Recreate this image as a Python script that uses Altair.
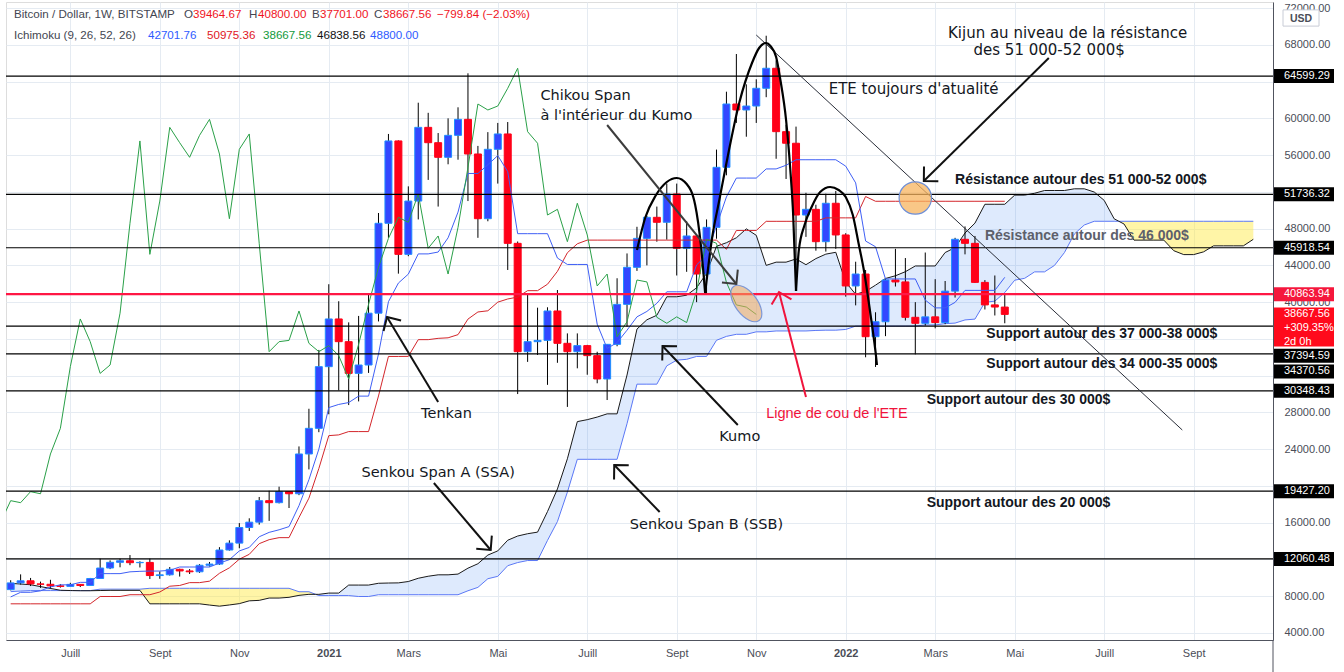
import math
import altair as alt
import pandas as pd

# ----------------------------------------------------------------- data
WEEK0 = "2020-05-25"  # first weekly candle (Monday)

OPEN = [8720, 9450, 9680, 9340, 9300, 9130, 9070, 9290, 9170, 9930,
        11070, 11690, 11860, 11650, 11680, 10250, 10330, 10930, 10750, 10660,
        11370, 11500, 13030, 13780, 15480, 16060, 18400, 18180, 19380, 19150,
        23480, 26270, 32980, 38170, 35700, 32250, 33160, 38800, 48580, 57540,
        45200, 51000, 59020, 57350, 55760, 58150, 59890, 56120, 49080, 56630,
        58300, 46400, 34610, 35700, 35840, 39040, 35520, 34610, 35270, 34180,
        31640, 35410, 39760, 43790, 46940, 49230, 48690, 51770, 45860, 47200,
        43060, 48140, 54670, 61560, 60910, 61340, 63270, 65450, 58550, 57290,
        49480, 50100, 46580, 50760, 47310, 41760, 43060, 36240, 37870, 42410,
        42200, 38350, 37700, 38400, 37780, 41200, 46840, 46400, 42150, 39700,
        39464.67]
HIGH = [9740, 10380, 9990, 9590, 9790, 9320, 9460, 9330, 9990, 12090,
        11900, 12090, 12480, 11800, 12090, 10700, 11180, 10990, 10960, 11490,
        11730, 13340, 14080, 15960, 16480, 18800, 19480, 19920, 19420, 24300,
        28400, 34800, 41950, 40100, 37800, 38500, 40900, 49700, 58300, 57600,
        52600, 61700, 60600, 58400, 60000, 61200, 64900, 57000, 58500, 59500,
        59600, 46600, 40800, 39400, 39440, 41320, 36600, 36600, 35350, 34600,
        35410, 42600, 45300, 48200, 49380, 50400, 52900, 52900, 48800, 47300,
        49000, 56600, 62900, 67000, 63700, 64250, 68990, 66300, 59300, 59100,
        51900, 50600, 51800, 52100, 47500, 44400, 43500, 38900, 42600, 45800,
        44800, 40000, 45400, 42500, 42300, 47000, 48240, 47200, 42400, 42900,
        40800]
LOW = [8640, 9270, 9110, 8910, 8830, 8940, 9060, 9000, 9160, 9900,
       10950, 11150, 11380, 11130, 9880, 9900, 10250, 10140, 10420, 10540,
       11230, 11410, 12960, 13220, 15100, 15790, 16200, 18100, 17600, 19000,
       21800, 25850, 27800, 30400, 28800, 29200, 32300, 37900, 47000, 43100,
       45000, 49000, 53300, 50400, 55000, 55500, 51000, 47000, 48800, 52900,
       43500, 30000, 33500, 34250, 31000, 33400, 28600, 32800, 32100, 31170,
       29350, 35200, 37330, 43400, 44000, 46580, 46800, 42900, 43300, 40000,
       40800, 46900, 53800, 59500, 58000, 59500, 62300, 55600, 53400, 42000,
       47100, 45600, 45500, 45800, 40600, 39650, 34000, 32950, 36300, 41700,
       38000, 34320, 37450, 37150, 37600, 40500, 45200, 42100, 39200, 38550,
       37701]
CLOSE = [9450, 9680, 9340, 9300, 9130, 9070, 9290, 9170, 9930, 11070,
         11690, 11860, 11650, 11680, 10250, 10330, 10930, 10750, 10660, 11370,
         11500, 13030, 13780, 15480, 16060, 18400, 18180, 19380, 19150, 23480,
         26270, 32980, 38170, 35700, 32250, 33160, 38800, 48580, 57540, 45200,
         51000, 59020, 57350, 55760, 58150, 59890, 56120, 49080, 56630, 58300,
         46400, 34610, 35700, 35840, 39040, 35520, 34610, 35270, 34180, 31640,
         35410, 39760, 43790, 46940, 49230, 48690, 51770, 45860, 47200, 43060,
         48140, 54670, 61560, 60910, 61340, 63270, 65450, 58550, 57290, 49480,
         50100, 46580, 50760, 47310, 41760, 43060, 36240, 37870, 42410, 42200,
         38350, 37700, 38400, 37780, 41200, 46840, 46400, 42150, 39700, 39467.40,
         38667.56]

TENKAN = [7925, 8430, 8430, 8590, 9015, 9240, 9240, 9510, 9510,
          10460, 10460, 10460, 10655, 10710, 10740, 10740, 10820,
          11180, 11180, 11180, 11180, 11610, 11980, 12930, 13310, 14470, 14950,
          15230, 15575, 17855, 20680, 24010, 28525, 28870, 29075, 29775, 29775,
          34350, 40050, 42075, 43050, 45250, 45250, 45450, 47000, 49800, 54000,
          54000, 54950, 55950, 54200, 47450, 47450, 47450, 47450, 44800, 44100,
          44100, 44100, 37600, 34960, 35600, 36950, 38400, 38990, 39875, 41125,
          41125, 41125, 44050, 45115, 48300, 51450, 53500, 53500, 53500, 54495,
          54495, 54895, 55495, 55495, 55495, 55495, 55495, 54795, 52975, 46650,
          46025, 42525, 42525, 42525, 42525, 40225, 39375, 39375, 39975, 41280,
          41280, 41280, 41280, 42701.76]
KIJUN = [7175, 7175, 7175, 7175, 7175, 7175, 7175, 7175, 7175,
         7970, 7970, 7970, 8165, 8165, 8165,
         8460, 9090, 9170, 9480, 9480, 9640, 10495, 11090, 12030, 12560, 13720, 14155,
         14375, 14375, 16565, 18670, 21900, 25475, 25555, 25915, 25915, 25915,
         29790, 34090, 34090, 34100, 35920, 35920, 36060, 36120, 36465, 38155,
         38930, 39060, 40000, 40345, 40550, 41250, 41250, 41950, 43350, 45375, 46350,
         46750, 46750, 46750, 46750, 46750, 46750, 46750, 46750, 46750, 46750,
         46750, 46750, 46750, 46750,
         45750, 47800, 47800, 47800,
         48795, 48795, 48795, 48795, 48795, 48795,
         49170, 49170, 49170, 49170, 51495,
         50975.36, 50975.36, 50975.36, 50975.36, 50975.36, 50975.36, 50975.36,
         50975.36, 50975.36, 50975.36, 50975.36, 50975.36, 50975.36, 50975.36]
SENKOU_A = [9400, 9330, 9250, 9050, 8850, 8650, 8620, 8600, 8600, 8620, 8640, 8640, 8640, 8640,
            7175, 7175, 7175, 7175, 7175, 7175, 7040, 6920, 7050, 7195, 7500,
            7550, 7802.5, 7802.5, 7882.5, 8095, 8207.5, 8207.5, 8342.5, 8342.5, 9215, 9215, 9215,
            9410, 9437.5, 9452.5, 9600, 9955, 10175, 10330, 10330, 10410, 11052.5,
            11535, 12480, 12935, 14095, 14552.5, 14802.5, 14975, 17210, 19675, 22955,
            27000, 27212.5, 27495, 27845, 27845, 32070, 37070, 38082.5, 38575, 40585,
            40585, 40755, 41560, 43132.5, 46077.5, 46465, 47005, 47975, 47272.5, 44000,
            44350, 44350, 44700, 44075, 44737.5, 45225, 45425, 42175, 40855, 41175,
            41850, 42575, 42870, 43312.5, 43937.5, 43937.5, 43937.5, 45400, 45932.5, 47525,
            48600, 50650, 50650, 50650, 51647.5, 51647.5, 51847.5, 52147.5, 52147.5, 52147.5,
            52332.5, 52332.5, 51982.5, 51072.5, 49072.5, 48497.5, 46747.5, 46747.5, 46747.5, 46747.5,
            45597.5, 45172.5, 45172.5, 45472.5, 46125, 46125, 46125, 46125, 46838.56]
SENKOU_B = [8501, 8565, 8615, 8615, 8615, 8615, 8615, 8615, 8615,
            8770, 8770, 8770, 8770, 8770,
            8865, 8865, 8865, 8865, 8865, 8865, 8865, 8865, 8865, 8865, 8865, 8865, 8865, 8865, 8865,
            8490, 8490, 8075, 8075, 8075, 8075, 7970, 7970,
            8165, 8165, 8165, 8165, 8165, 8165, 8165, 8165, 8165,
            8595, 8965, 9905, 10165, 11325, 11665, 11885, 11885, 14075, 16125, 19325,
            22900, 22900, 22900, 22900, 22900,
            26775, 31075, 31075, 31075, 33070, 33685, 33780, 34090, 34090, 35850,
            36275, 36500, 36500, 36770, 36770, 36865, 36865, 36865, 36865, 36920,
            36950, 36950, 37030, 37390, 37390, 37390, 37390, 37390, 37390, 37400,
            37520, 37520, 37660, 37720, 38065, 38155, 39980, 40110, 41050, 42390,
            42595, 43295, 43295, 43995, 45395, 47420, 48395,
            48800, 48800, 48800, 48800, 48800, 48800, 48800, 48800, 48800, 48800,
            48800, 48800, 48800, 48800, 48800, 48800, 48800]
CHIKOU_SHIFT_WEEKS = 25

LEVEL_PRICES = [64599.29, 51736.32, 45918.54, 37394.59, 34370.56, 30348.43, 19427.20, 12060.48]
NECKLINE = 40863.94
LAST_PRICE = 38667.56
PRICE_TICKS = [4000, 8000, 16000, 24000, 28000, 40000, 44000, 48000, 56000, 60000, 68000, 72000]

MONTH_TICKS = ["2020-07-06", "2020-09-07", "2020-11-02", "2021-01-04", "2021-03-01",
               "2021-05-03", "2021-07-05", "2021-09-06", "2021-11-01", "2022-01-03",
               "2022-03-07", "2022-05-02", "2022-07-04", "2022-09-05"]

# annotations (date, price, text, style)
NOTE_DATES = ["2022-03-16", "2022-04-03", "2021-12-22", "2021-06-02", "2021-06-02",
              "2022-03-21", "2022-04-11", "2022-04-12", "2022-04-12", "2022-03-01",
              "2022-03-01", "2021-03-10", "2021-10-06", "2021-11-08", "2021-01-27",
              "2021-08-04"]
NOTE_PRICES = [69286, 67436, 63193, 62431, 60255,
               53291, 47198, 36534, 33270, 29353,
               18145, 27829, 25327, 27829, 21410,
               15751]
NOTE_TEXTS = ["Kijun au niveau de la résistance", "des 51 000-52 000$",
              "ETE toujours d'atualité", "Chikou Span", "à l'intérieur du Kumo",
              "Résistance autour des 51 000-52 000$", "Résistance autour des 46 000$",
              "Support autour des 37 000-38 000$", "Support autour des 34 000-35 000$",
              "Support autour des 30 000$", "Support autour des 20 000$",
              "Tenkan", "Kumo", "Ligne de cou de l'ETE", "Senkou Span A (SSA)",
              "Senkou Span B (SSB)"]
NOTE_KIND = ["big", "big", "big", "label", "label",
             "level", "level_gray", "level", "level", "level",
             "level", "label", "label", "red", "label", "label"]

ARROW_TAIL_DATES = ["2022-05-26", "2021-07-19", "2021-03-22", "2021-10-19",
                    "2021-03-19", "2021-08-25", "2021-12-06"]
ARROW_TAIL_PRICES = [66566, 59275, 29135, 26632, 20322, 17166, 29679]
ARROW_TIP_DATES = ["2022-02-27", "2021-10-18", "2021-02-14", "2021-08-27",
                   "2021-04-28", "2021-07-24", "2021-11-17"]
ARROW_TIP_PRICES = [53182, 41975, 38384, 35228, 13031, 22280, 41104]
ARROW_KIND = ["black", "gray", "black", "black", "black", "black", "red"]

TREND_DATES = ["2021-11-01", "2022-08-28"]
TREND_PRICES = [69068, 26088]

ETE_ARC = ["LS"] * 9 + ["H"] * 15 + ["RS"] * 15
ETE_DATES = ["2021-08-09", "2021-08-15", "2021-08-22", "2021-08-30", "2021-09-06",
             "2021-09-13", "2021-09-19", "2021-09-23", "2021-09-26",
             "2021-09-26", "2021-10-01", "2021-10-06", "2021-10-11", "2021-10-20",
             "2021-10-29", "2021-11-03", "2021-11-08", "2021-11-11", "2021-11-15",
             "2021-11-18", "2021-11-22", "2021-11-25", "2021-11-27", "2021-11-29",
             "2021-11-29", "2021-12-01", "2021-12-05", "2021-12-10", "2021-12-16",
             "2021-12-23", "2021-12-29", "2022-01-03", "2022-01-08", "2022-01-12",
             "2022-01-16", "2022-01-19", "2022-01-22", "2022-01-24", "2022-01-25"]
ETE_PRICES = [45674, 49265, 51550, 53073, 53509, 52855, 50571, 46218, 40995,
              40995, 47089, 51115, 55141, 61669, 66022, 67654, 68198, 67872, 66675,
              64172, 59820, 54379, 49483, 41213,
              41213, 45674, 48394, 50353, 51985, 52529, 52203, 51441, 49483, 46436,
              43280, 40234, 36969, 34576, 33161]

CIRCLE_DATE, CIRCLE_PRICE = "2022-02-21", 51332
OVAL_DATE, OVAL_PRICE = "2021-10-25", 39853

# ----------------------------------------------------------------- layout / style
W, H = 1267, 638
X0, X1 = "2020-05-25 05:22", "2022-10-27 08:24"
Y0, Y1 = 3238.0, 72659.0
FONT = "Liberation Sans"
NOTE_FONT = "DejaVu Sans"
GRID = "#e5ebf2"
UP_FILL, UP_EDGE = "#3347ff", "#1f8fff"
DN_FILL, DN_EDGE = "#ff0018", "#ff0018"

EPOCH = pd.Timestamp("1970-01-01")


def to_ms(v):
    return (pd.to_datetime(v) - EPOCH) // pd.Timedelta(milliseconds=1)


XS = alt.Scale(type="utc", domain=[int(to_ms(X0)), int(to_ms(X1))], nice=False)
YS = alt.Scale(domain=[Y0, Y1], nice=False, zero=False)

MONTHS = "['Janv','Févr','Mars','Avr','Mai','Juin','Juill','Août','Sept','Oct','Nov','Déc']"
XAXIS = alt.Axis(values=[int(v) for v in to_ms(MONTH_TICKS)], title=None,
                 labelExpr=f"utcmonth(datum.value) == 0 ? utcFormat(datum.value, '%Y') : {MONTHS}[utcmonth(datum.value)]",
                 labelFontWeight={"condition": {"test": "utcmonth(datum.value) == 0", "value": "bold"}, "value": "normal"},
                 ticks=False, grid=True, gridColor=GRID, domainColor="#50535e", labelColor="#4a4d57",
                 labelFontSize=11, labelPadding=7, labelFlush=False, labelOverlap=False, labelFont=FONT)
# price grid every 4000; labels hidden where a price tag covers them
YAXIS = alt.Axis(orient="right", values=list(range(4000, 72001, 4000)), format=".2f", title=None,
                 labelExpr=f"indexof({PRICE_TICKS}, datum.value) >= 0 ? datum.label : ''",
                 ticks=False, grid=True, gridColor=GRID, domainColor="#50535e", labelColor="#4a4d57",
                 labelFontSize=11, labelPadding=11, labelFlush=False, labelOverlap=False, labelFont=FONT)


def xenc(f):
    return alt.X(f, type="temporal", scale=XS, axis=XAXIS)


def yenc(f):
    return alt.Y(f, type="quantitative", scale=YS, axis=YAXIS)


PX_PER_MS = W / (to_ms(X1) - to_ms(X0))
PX_PER_USD = H / (Y1 - Y0)

# ----------------------------------------------------------------- frames
weeks = pd.date_range(WEEK0, periods=len(CLOSE), freq="7D")
cwks = pd.date_range(WEEK0, periods=len(SENKOU_A), freq="7D")

candles = pd.DataFrame({"t": to_ms(weeks), "o": OPEN, "h": HIGH, "l": LOW, "c": CLOSE})
ind = pd.DataFrame({"t": to_ms(weeks), "tenkan": TENKAN, "kijun": KIJUN})
chikou = pd.DataFrame({"t": to_ms(weeks - pd.Timedelta(weeks=CHIKOU_SHIFT_WEEKS)), "v": CLOSE})

ct = list(to_ms(cwks))
rows = []
for k in range(len(ct)):
    a1, b1 = SENKOU_A[k], SENKOU_B[k]
    if k > 0:
        a0, b0 = SENKOU_A[k - 1], SENKOU_B[k - 1]
        d0, d1 = a0 - b0, a1 - b1
        if d0 * d1 < 0:
            f = d0 / (d0 - d1)
            tx = ct[k - 1] + f * (ct[k] - ct[k - 1])
            vx = a0 + f * (a1 - a0)
            rows.append((tx, vx, vx))
    rows.append((ct[k], a1, b1))
cloud = pd.DataFrame(rows, columns=["t", "a", "b"])
cloud["hi"] = cloud[["a", "b"]].max(axis=1)

levels = pd.DataFrame({"p": LEVEL_PRICES})

notes = pd.DataFrame({"t": to_ms(NOTE_DATES), "p": NOTE_PRICES, "text": NOTE_TEXTS, "kind": NOTE_KIND})

arrows = pd.DataFrame({"t0": to_ms(ARROW_TAIL_DATES), "p0": ARROW_TAIL_PRICES,
                       "t1": to_ms(ARROW_TIP_DATES), "p1": ARROW_TIP_PRICES, "kind": ARROW_KIND})
arrows["ang"] = [math.degrees(math.atan2(-(r.p1 - r.p0) * PX_PER_USD, (r.t1 - r.t0) * PX_PER_MS)) % 360
                 for r in arrows.itertuples()]

trend = pd.DataFrame({"t0": [to_ms(TREND_DATES[0])], "t1": [to_ms(TREND_DATES[1])],
                      "p0": [TREND_PRICES[0]], "p1": [TREND_PRICES[1]]})
ete = pd.DataFrame({"t": to_ms(ETE_DATES), "p": ETE_PRICES, "arc": ETE_ARC})

# ----------------------------------------------------------------- layers
layers = []

layers.append(alt.Chart(cloud).mark_area(color="#2f7af5", opacity=0.16, clip=True).encode(
    x=xenc("t"), y=yenc("hi"), y2="b"))
layers.append(alt.Chart(cloud).mark_area(color="#ffe83b", opacity=0.45, clip=True).encode(
    x=xenc("t"), y=yenc("hi"), y2="a"))
layers.append(alt.Chart(cloud).mark_line(color="#5b78f6", strokeWidth=1, clip=True).encode(
    x=xenc("t"), y=yenc("b")))
layers.append(alt.Chart(cloud).mark_line(color="#1a1a1a", strokeWidth=1, clip=True).encode(
    x=xenc("t"), y=yenc("a")))

# candles
layers.append(alt.Chart(candles).mark_rule(color="#000000", strokeWidth=1, clip=True).encode(
    x=xenc("t"), y=yenc("l"), y2="h"))
up = "datum.c >= datum.o"
layers.append(alt.Chart(candles).mark_bar(size=7, strokeWidth=1, clip=True).encode(
    x=xenc("t"), y=yenc("o"), y2="c",
    color=alt.condition(up, alt.value(UP_FILL), alt.value(DN_FILL)),
    stroke=alt.condition(up, alt.value(UP_EDGE), alt.value(DN_EDGE))))

# indicator lines
layers.append(alt.Chart(ind).mark_line(color="#d3262b", strokeWidth=1, clip=True).encode(
    x=xenc("t"), y=yenc("kijun")))
layers.append(alt.Chart(ind).mark_line(color="#3f5ff5", strokeWidth=1, clip=True).encode(
    x=xenc("t"), y=yenc("tenkan")))
layers.append(alt.Chart(chikou).mark_line(color="#2aa048", strokeWidth=1, clip=True).encode(
    x=xenc("t"), y=yenc("v")))

# horizontal levels
layers.append(alt.Chart(levels).mark_rule(color="#000000", strokeWidth=1.2).encode(y=yenc("p")))
layers.append(alt.Chart(pd.DataFrame({"p": [NECKLINE]})).mark_rule(color="#ff1744", strokeWidth=2.2).encode(
    y=yenc("p")))

# ETE diagonal and shoulders
layers.append(alt.Chart(trend).mark_rule(color="#2a2e39", strokeWidth=1).encode(
    x=xenc("t0"), x2="t1", y=yenc("p0"), y2="p1"))
layers.append(alt.Chart(ete).mark_line(color="#000000", strokeWidth=2.2, interpolate="monotone").encode(
    x=xenc("t"), y=yenc("p"), detail="arc:N"))

# ellipses
layers.append(alt.Chart(pd.DataFrame({"t": [to_ms(CIRCLE_DATE)], "p": [CIRCLE_PRICE]})).mark_point(
    shape="circle", size=1050, filled=True, fill="#f7b45f", fillOpacity=0.75,
    stroke="#6d8fd8", strokeWidth=1.2, opacity=1).encode(x=xenc("t"), y=yenc("p")))
layers.append(alt.Chart(pd.DataFrame({"t": [to_ms(OVAL_DATE)], "p": [OVAL_PRICE], "ang": [323]})).mark_point(
    shape="M0,-1 A0.52,1 0 1,1 0,1 A0.52,1 0 1,1 0,-1 Z", size=1800, filled=True,
    fill="#f2a75a", fillOpacity=0.55, stroke="#7d97d6", strokeWidth=1.2, opacity=1).encode(
    x=xenc("t"), y=yenc("p"), angle=alt.Angle("ang:Q", scale=None)))

# arrows
ARROW_COLORS = {"black": "#111111", "gray": "#3c3c3c", "red": "#f0143c"}
for kind, col in ARROW_COLORS.items():
    sub = arrows[arrows.kind == kind]
    layers.append(alt.Chart(sub).mark_rule(color=col, strokeWidth=2).encode(
        x=xenc("t0"), x2="t1", y=yenc("p0"), y2="p1"))
    layers.append(alt.Chart(sub).mark_point(shape="M-1,-1L0,0L-1,1", size=420, filled=False,
                                            color=col, strokeWidth=2, opacity=1).encode(
        x=xenc("t1"), y=yenc("p1"), angle=alt.Angle("ang:Q", scale=None)))

# annotation texts
NOTE_STYLE = {"big": (NOTE_FONT, 15, "normal", "#131722"), "label": (NOTE_FONT, 14.5, "normal", "#131722"),
              "level": (FONT, 14, "bold", "#131722"), "level_gray": (FONT, 14, "bold", "#5d606b"),
              "red": (FONT, 14.5, "normal", "#f0143c")}
for kind, (ff, fs, fw, col) in NOTE_STYLE.items():
    sub = notes[notes.kind == kind]
    layers.append(alt.Chart(sub).mark_text(align="left", baseline="middle", fontSize=fs,
                                           fontWeight=fw, color=col, font=ff).encode(
        x=xenc("t"), y=yenc("p"), text="text:N"))

# price tags on the scale
TAG_X = W + 31
TEXT_X = W + 11


def tag(price, label, fill, shift=0.0, lines=None, box_bottom=None):
    unit = 30.0
    top = (shift - 7) / unit
    bot = (box_bottom if box_bottom is not None else shift + 7) / unit
    path = f"M-1,{top:.3f}L1,{top:.3f}L1,{bot:.3f}L-1,{bot:.3f}Z"
    d = pd.DataFrame({"p": [price]})
    out = [alt.Chart(d).mark_point(shape=path, size=3600, filled=True, fill=fill, strokeWidth=0,
                                   opacity=1).encode(x=alt.value(TAG_X), y=yenc("p"))]
    for k, txt in enumerate(lines or [label]):
        out.append(alt.Chart(d).mark_text(align="left", baseline="middle", dy=shift + 14 * k,
                                          color="#ffffff", fontSize=11, font=FONT).encode(
            x=alt.value(TEXT_X), y=yenc("p"), text=alt.value(txt)))
    return out


TAG_SHIFTS = {37394.59: 29.6, 34370.56: 17.6}
for p in LEVEL_PRICES:
    layers += tag(p, f"{p:.2f}", "#000000", TAG_SHIFTS.get(p, 0.0))
layers += tag(NECKLINE, f"{NECKLINE:.2f}", "#f5173c")
layers += tag(LAST_PRICE, "", "#ff0a1c", 0.0, lines=[f"{LAST_PRICE:.2f}", "+309.35%", "2d 0h"], box_bottom=32)

# scale border continuing through the time-axis strip
one = pd.DataFrame({"k": [0]})
layers.append(alt.Chart(one).mark_rule(color="#50535e", strokeWidth=1).encode(
    x=alt.value(W), y=alt.value(H), y2=alt.value(H + 32)))

# USD badge
layers.append(alt.Chart(one).mark_point(shape="M-1,-0.45L1,-0.45L1,0.45L-1,0.45Z", size=1296, filled=True,
                                        fill="#ffffff", stroke="#c8ccd6", strokeWidth=1, opacity=1).encode(
    x=alt.value(W + 28), y=alt.value(16)))
layers.append(alt.Chart(one).mark_text(fontSize=10.5, fontWeight="bold", color="#4a4d57", font=FONT).encode(
    x=alt.value(W + 28), y=alt.value(16.5), text=alt.value("USD")))

# header (legend strip)
HEADER = [
    ("Bitcoin / Dollar, 1W, BITSTAMP", 8, 13, "#434651"), ("O", 178, 13, "#434651"),
    ("39464.67", 187, 13, "#f0141e"), ("H", 243, 13, "#434651"), ("40800.00", 252, 13, "#f0141e"),
    ("B", 306, 13, "#434651"), ("37701.00", 314, 13, "#f0141e"), ("C", 368, 13, "#434651"),
    ("38667.56", 377, 13, "#f0141e"), ("\u2212799.84 (\u22122.03%)", 431, 13, "#f0141e"),
    ("Ichimoku (9, 26, 52, 26)", 8, 34, "#434651"), ("42701.76", 142, 34, "#2e5bff"),
    ("50975.36", 201, 34, "#e0161e"), ("38667.56", 257, 34, "#139a3c"),
    ("46838.56", 311, 34, "#111111"), ("48800.00", 364, 34, "#2e5bff"),
]
for txt, hx, hy, col in HEADER:
    layers.append(alt.Chart(one).mark_text(align="left", baseline="middle", fontSize=11.6,
                                           color=col, font=FONT).encode(
        x=alt.value(hx), y=alt.value(hy), text=alt.value(txt)))

chart = alt.layer(*layers).properties(
    width=W, height=H,
    padding={"left": 6, "top": 2, "right": 71, "bottom": 32},
    autosize=alt.AutoSizeParams(type="none"),
    background="#ffffff",
).configure_view(stroke=None).configure(font=FONT)

chart.save("out.html", embed_options={"renderer": "svg", "actions": False})
